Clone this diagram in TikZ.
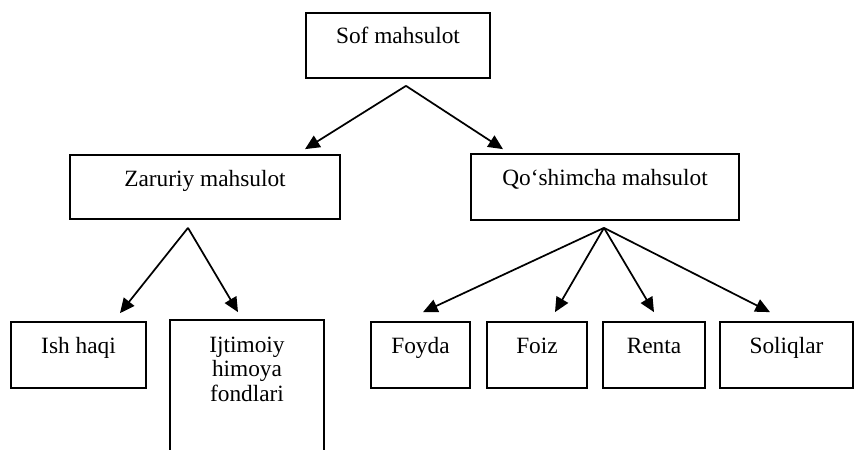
\documentclass[tikz,border=0pt]{standalone}
\usepackage{fontspec}
\setmainfont{Liberation Serif}
\usetikzlibrary{calc,arrows.meta}

\begin{document}
\begin{tikzpicture}[x=0.75pt,y=-0.75pt,
            blok/.style={draw,line width=1.3pt,inner sep=0pt,align=center,font=\fontsize{17.5}{18.5}\selectfont},
            strelka/.style={-{Triangle[length=11pt,width=10pt]},line width=1.3pt}]
            \useasboundingbox (0,0) rectangle (854,450);
            \node[blok,minimum width=138pt,text height=22.5pt,text depth=26.25pt] (sof) at (398,45.5) {Sof mahsulot};
            \node[blok,minimum width=202.5pt,text height=23.25pt,text depth=24.75pt] (zar) at (205,187) {Zaruriy mahsulot};
            \node[blok,minimum width=201pt,text height=23.25pt,text depth=26.25pt] (qos) at (605,187) {Qo‘shimcha mahsulot};
            \node[blok,minimum width=101.25pt,text height=23.25pt,text depth=26.25pt] (ish) at (78.5,355) {Ish haqi};
            \node[blok,draw=none,text width=114pt,text height=23.25pt,text depth=74.25pt] (ijt) at (247,386) {Ijtimoiy\\ himoya\\ fondlari};
            \draw[line width=1.3pt] (ijt.south west)--(ijt.north west)--(ijt.north east)--(ijt.south east);
            \node[blok,minimum width=74.25pt,text height=23.25pt,text depth=26.25pt] (foy) at (420.5,355) {Foyda};
            \node[blok,minimum width=75pt,text height=23.25pt,text depth=26.25pt] (foi) at (537,355) {Foiz};
            \node[blok,minimum width=76.5pt,text height=23.25pt,text depth=26.25pt] (ren) at (654,355) {Renta};
            \node[blok,minimum width=99.75pt,text height=23.25pt,text depth=26.25pt] (sol) at (786.5,355) {Soliqlar};
            \draw[strelka] ($(sof.south)+(8,7)$)--($(zar.north)+(100,-5)$);
            \draw[strelka] ($(sof.south)+(8,7)$)--($(qos.north)+(-102,-4)$);
            \draw[strelka] ($(zar.south)+(-17,8)$)--($(ish.north)+(41.5,-8)$);
            \draw[strelka] ($(zar.south)+(-17,8)$)--($(ijt.north)+(-9,-8)$);
            \draw[strelka] ($(qos.south)+(-1,7)$)--($(foy.north)+(2.5,-9)$);
            \draw[strelka] ($(qos.south)+(-1,7)$)--($(foi.north)+(18,-9)$);
            \draw[strelka] ($(qos.south)+(-1,7)$)--($(ren.north)+(0,-9)$);
            \draw[strelka] ($(qos.south)+(-1,7)$)--($(sol.north)+(-16.5,-9)$);
        \end{tikzpicture}
\end{document}
